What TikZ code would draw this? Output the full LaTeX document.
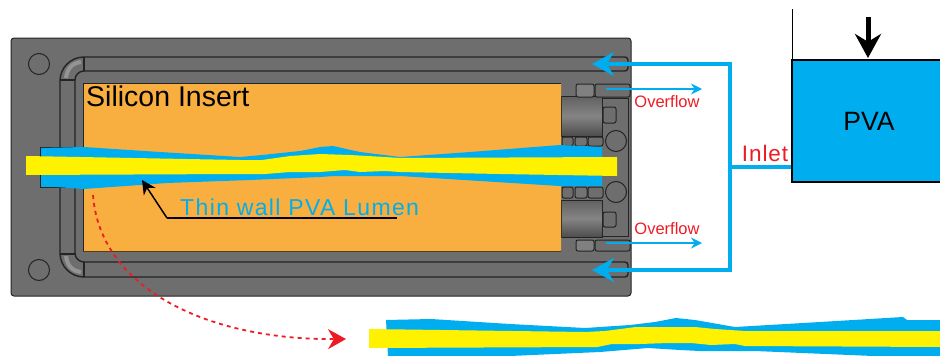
\documentclass[tikz,border=0pt]{standalone}
\usepackage{fontspec}
\setmainfont{Liberation Sans}
\usetikzlibrary{arrows.meta}
\definecolor{plategray}{HTML}{6E6E6E}
\definecolor{edgegray}{HTML}{242424}
\definecolor{insertorange}{HTML}{F9AE40}
\definecolor{pvablue}{HTML}{00AEEF}
\definecolor{pvayellow}{HTML}{FFF200}
\definecolor{labelred}{HTML}{ED1C24}
\begin{document}
\begin{tikzpicture}[x=1pt,y=-1pt,
    groove/.style={draw=edgegray,line width=1.4pt},
    elbow/.style={draw=black!42,line width=4pt},
    hole/.style={circle,draw=edgegray,line width=1pt,minimum size=21pt,inner sep=0pt},
    fitting/.style={draw=edgegray,line width=1pt,top color=black!62,bottom color=black!70,middle color=black!48},
    cell/.style={draw=edgegray,line width=1pt,fill=plategray,rounded corners=2pt},
    feed/.style={draw=pvablue,line width=4pt},
    flowout/.style={draw=pvablue,line width=2pt,-{Stealth[length=11pt,width=11pt]}},
    redlabel/.style={text=labelred,inner sep=0pt},
]
\useasboundingbox (0,0) rectangle (940,356);
% plate
\draw[fill=plategray,draw=edgegray,line width=1pt,rounded corners=3pt] (11,38) rectangle (631,296);
\node[hole] (holeA) at (39,64) {};
\node[hole] (holeB) at (39,270) {};
% channels
\draw[elbow] (81,62) .. controls (72,63) and (67,69) .. (66,78);
\draw[elbow] (66,256) .. controls (67,265) and (72,271) .. (81,272);
\draw[groove,rounded corners=3pt] (84,57) -- (628,57) -- (628,71) -- (84,71);
\draw[groove,rounded corners=3pt] (84,262) -- (628,262) -- (628,277) -- (84,277);
\draw[groove,rounded corners=24pt] (84,57) -- (60,57) -- (60,147);
\draw[groove,rounded corners=24pt] (60,187) -- (60,277) -- (84,277);
\draw[groove,rounded corners=9pt] (84,71) -- (75,71) -- (75,147);
\draw[groove,rounded corners=9pt] (75,187) -- (75,262) -- (84,262);
\draw[groove] (84,57) -- (84,71) (84,262) -- (84,277);
\draw[groove] (60,80) -- (75,80) (60,254) -- (75,254);
% right hand fittings
\draw[groove,line width=1pt] (602,98) -- (628,98) -- (628,236) -- (602,236);
\foreach \ya/\yb/\yc/\yd/\ye/\yf/\yg/\yh in {96/136/107/123/137/146/84/97,200/237/212/227/187/198/240/251}{
    \draw[fitting] (561,\ya) rectangle (602,\yb);
    \draw[cell] (603,\yc) rectangle (616,\yd);
    \draw[cell] (562,\ye) rectangle (573,\yf);
    \draw[cell,fill=black!55] (575,\ye) rectangle (587,\yf);
    \draw[cell] (588,\ye) rectangle (603,\yf);
    \draw[cell] (595,\yg) rectangle (630,\yh);
    \draw[cell,fill=black!50] (576,\yg) rectangle (594,\yh);
}
\node[hole] (holeC) at (616,141) {};
\node[hole] (holeD) at (616,192) {};
% insert and lumen
\fill[insertorange,rounded corners=1pt] (83,83) rectangle (561,251);
\draw[edgegray,line width=0.8pt] (83,251) -- (83,83) -- (561,83);
\draw[black!65!insertorange,line width=1pt] (83,251) -- (561,251);
\node[anchor=base west,inner sep=0pt,font=\fontsize{28.5}{28.5}\selectfont] (insertlabel) at (86,106) {Silicon Insert};
\draw[fill=pvablue,draw=edgegray,line width=1pt] (40,147) rectangle (84,187);
\fill[pvablue] (41,148) -- (84,147) -- (160,152) -- (240,157) -- (262,155) -- (300,151) -- (320,147) -- (333,146) -- (360,152) -- (400,157)
    -- (470,152) -- (560,145) -- (602,147) -- (602,186) -- (560,186) -- (480,181) -- (400,176) -- (335,176) -- (320,177)
    -- (250,180) -- (167,183) -- (84,189) -- (41,186) -- cycle;
\fill[pvayellow] (26,156) -- (240,160) -- (262,160) -- (290,156) -- (320,154) -- (350,155) -- (385,157) -- (400,158) -- (617,157)
    -- (617,176) -- (500,174) -- (400,172) -- (385,171) -- (360,172) -- (345,170) -- (320,172) -- (290,172) -- (265,174) -- (240,174)
    -- (26,175) -- cycle;
\node[anchor=base west,inner sep=0pt,text=pvablue,font=\fontsize{23}{23}\selectfont] (lumenlabel) at (180,215) {\addfontfeature{LetterSpace=6}Thin wall PVA Lumen};
\coordinate (lumenA) at (167,218);
\coordinate (lumenB) at (397,218);
\coordinate (lumenTip) at (142,180);
\draw[black,line width=1.5pt] (lumenB) -- (lumenA);
\draw[black,line width=1.5pt,-{Stealth[length=14pt,width=14pt]}] (lumenA) -- (lumenTip);
% PVA reservoir
\node[draw=black,fill=pvablue,line width=1.5pt,anchor=north west,minimum width=152pt,minimum height=122pt,inner sep=0pt] (pva) at (791,59) {};
\node[font=\fontsize{26.5}{26.5}\selectfont,inner sep=0pt] (pvalabel) at (869,121) {PVA};
\coordinate (wallTop) at (792,9);
\coordinate (wallEnd) at (792,59);
\draw[black,line width=1pt] (wallTop) -- (wallEnd);
\coordinate (pushA) at (868,17);
\coordinate (pushB) at (868,58);
\draw[black,line width=5pt,-{Stealth[length=24pt,width=26pt]}] (pushA) -- (pushB);
% feed lines
\coordinate (feedT) at (730,64);
\coordinate (feedB) at (730,270);
\coordinate (feedM) at (730,167);
\coordinate (feedTip) at (592,64);
\coordinate (feedTipB) at (592,270);
\draw[feed] (feedM) -- (pva.west |- feedM);
\draw[feed,-{Stealth[length=22pt,width=24pt]}] (feedM) -- (feedT) -- (feedTip);
\draw[feed,-{Stealth[length=22pt,width=24pt]}] (feedM) -- (feedB) -- (feedTipB);
\node[redlabel,font=\fontsize{22.5}{22.5}\selectfont] (inletlabel) at (765,153) {\addfontfeature{LetterSpace=4}Inlet};
% overflow
\coordinate (overA) at (606,89);
\coordinate (overB) at (702,89);
\coordinate (overC) at (606,243);
\coordinate (overD) at (702,243);
\draw[flowout] (overA) -- (overB);
\draw[flowout] (overC) -- (overD);
\node[redlabel,font=\fontsize{16.5}{16.5}\selectfont] (overlabelA) at (667,102) {Overflow};
\node[redlabel,font=\fontsize{16.5}{16.5}\selectfont] (overlabelB) at (667,229) {Overflow};
% enlarged lumen
\fill[pvablue] (386,320) -- (431,319) -- (510,324) -- (585,328) -- (630,325) -- (655,322) -- (676,318) -- (695,320) -- (735,327)
    -- (820,322) -- (903,317) -- (907,320) -- (940,320) -- (940,356) -- (873,356) -- (755,351) -- (700,351) -- (680,350) -- (648,348)
    -- (600,352) -- (510,356) -- (388,356) -- cycle;
\fill[pvayellow] (369,329) -- (585,332) -- (605,331) -- (636,327) -- (695,327) -- (715,329) -- (745,331) -- (940,331) -- (940,347) -- (745,346)
    -- (735,344) -- (711,345) -- (691,343) -- (668,343) -- (640,344) -- (612,344) -- (597,347) -- (369,348) -- cycle;
% zoom curve
\coordinate (zoomA) at (93,195);
\coordinate (zoomB) at (346,339);
\draw[labelred,line width=1.8pt,dash pattern=on 4pt off 4pt,-{Stealth[length=18pt,width=20pt]}] (zoomA) .. controls (100,290) and (210,340) .. (zoomB);
\end{tikzpicture}
\end{document}
